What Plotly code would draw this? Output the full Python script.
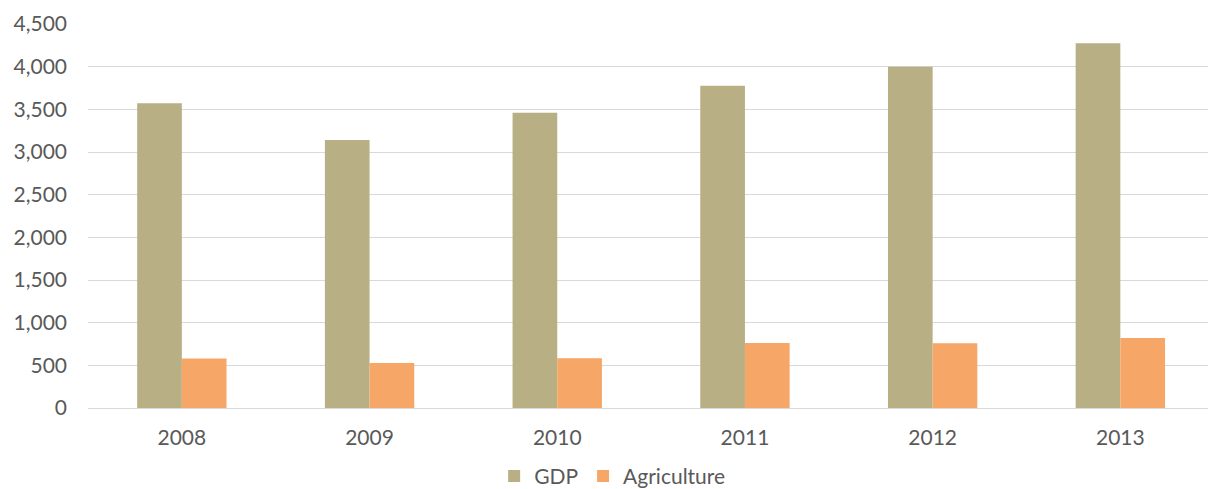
import plotly.graph_objects as go

years = ["2008", "2009", "2010", "2011", "2012", "2013"]
gdp = [3570, 3140, 3460, 3777, 4000, 4273]
agriculture = [580, 527, 582, 762, 758, 820]
y_ticks = [0, 500, 1000, 1500, 2000, 2500, 3000, 3500, 4000, 4500]
y_tick_labels = ["0", "500", "1,000", "1,500", "2,000", "2,500", "3,000", "3,500", "4,000", "4,500"]

FONT = "Lato, 'Open Sans', sans-serif"
TXT = "#595959"

fig = go.Figure()
fig.add_trace(go.Bar(x=years, y=gdp, name="GDP", marker=dict(color="#B8AF85", line=dict(width=0))))
fig.add_trace(go.Bar(x=years, y=agriculture, name="Agriculture", marker=dict(color="#F6A666", line=dict(width=0))))

fig.update_layout(
    width=1208, height=489,
    margin=dict(l=88, r=0, t=24, b=81),
    paper_bgcolor="white", plot_bgcolor="white",
    barmode="group", bargap=0.524, bargroupgap=0,
    font=dict(family=FONT, color=TXT, size=21),
    legend=dict(orientation="h", x=0.468, xanchor="center",
                yref="container", y=0.026, yanchor="middle",
                font=dict(size=21, color=TXT), itemwidth=30, traceorder="normal"),
    xaxis=dict(range=[-0.5, 5.467], showgrid=False, showline=False, zeroline=False,
               ticks="", tickfont=dict(size=21, color=TXT), ticklabelstandoff=15,
               automargin=False),
    yaxis=dict(range=[0, 4500], tickvals=y_ticks, ticktext=y_tick_labels,
               showgrid=True, gridcolor="#D9D9D9", gridwidth=1.3,
               zeroline=True, zerolinecolor="#D9D9D9", zerolinewidth=1.3,
               showline=False, ticks="", tickfont=dict(size=21, color=TXT),
               ticklabelstandoff=20, automargin=False),
)

fig.write_html("out.html")
